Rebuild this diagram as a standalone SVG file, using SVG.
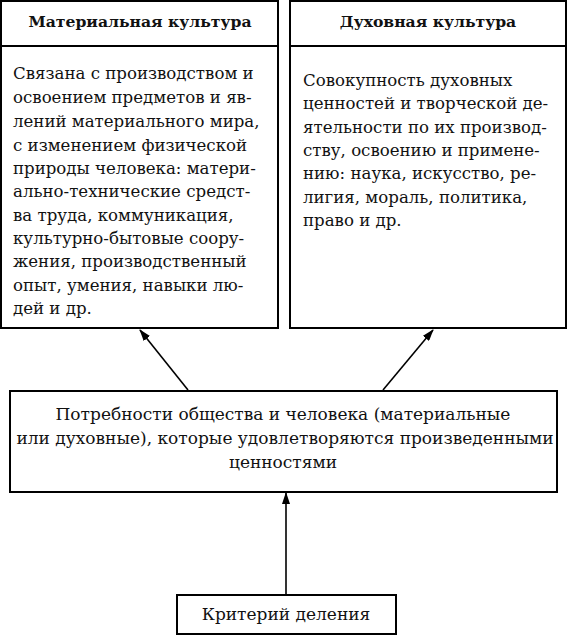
<svg xmlns="http://www.w3.org/2000/svg" width="568" height="644" viewBox="0 0 568 644">
<style>
rect{fill:#fff;stroke:#000;stroke-width:2}
.d{stroke:#000;stroke-width:2}
text{font-family:"DejaVu Serif","Liberation Serif",serif;font-size:16.6px;fill:#111}
.h{font-weight:bold;font-size:15.6px}
.m{font-size:17px}
.c{text-anchor:middle}
.a{stroke:#000;stroke-width:1.6;fill:none;marker-end:url(#ar)}
</style>
<defs>
<marker id="ar" markerWidth="12" markerHeight="8" refX="11" refY="4" orient="auto" markerUnits="userSpaceOnUse">
<path d="M0,0 L12,4 L0,8 Z" fill="#000"/>
</marker>
</defs>
<rect x="0" y="0" width="568" height="644" style="fill:#fff;stroke:none"/>
<g id="material">
<rect x="1" y="1" width="277" height="327"/>
<line class="d" x1="1" y1="46" x2="278" y2="46"/>
<text class="h c" x="140" y="27">Материальная культура</text>
<text x="13" y="79">Связана с производством и</text>
<text x="13" y="103">освоением предметов и яв-</text>
<text x="13" y="127">лений материального мира,</text>
<text x="13" y="151">с изменением физической</text>
<text x="13" y="174">природы человека: матери-</text>
<text x="13" y="197">ально-технические средст-</text>
<text x="13" y="221">ва труда, коммуникация,</text>
<text x="13" y="244">культурно-бытовые соору-</text>
<text x="13" y="267">жения, производственный</text>
<text x="13" y="291">опыт, умения, навыки лю-</text>
<text x="13" y="314">дей и др.</text>
</g>
<g id="spiritual">
<rect x="290" y="1" width="276" height="327"/>
<line class="d" x1="290" y1="46" x2="566" y2="46"/>
<text class="h c" x="428" y="27">Духовная культура</text>
<text x="303" y="86">Совокупность духовных</text>
<text x="303" y="109">ценностей и творческой де-</text>
<text x="303" y="133">ятельности по их производ-</text>
<text x="303" y="156">ству, освоению и примене-</text>
<text x="303" y="179">нию: наука, искусство, ре-</text>
<text x="303" y="203">лигия, мораль, политика,</text>
<text x="303" y="226">право и др.</text>
</g>
<g id="needs">
<rect x="10" y="391" width="547" height="101"/>
<text class="c m" x="283" y="420">Потребности общества и человека (материальные</text>
<text class="c m" x="285" y="444">или духовные), которые удовлетворяются произведенными</text>
<text class="c m" x="283" y="468">ценностями</text>
</g>
<g id="criterion">
<rect x="177" y="595" width="219" height="39"/>
<text class="c m" x="286" y="620">Критерий деления</text>
</g>
<g id="connectors">
<line class="a" x1="188" y1="390" x2="140" y2="330"/>
<line class="a" x1="383" y1="390" x2="433" y2="330"/>
<line class="a" x1="286" y1="594" x2="286" y2="493"/>
</g>
</svg>
